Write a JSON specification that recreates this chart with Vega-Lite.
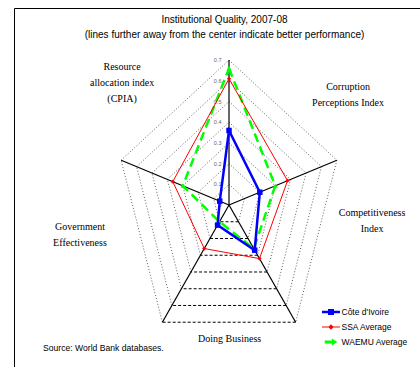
{
  "$schema": "https://vega.github.io/schema/vega-lite/v6.json",
  "width": 406,
  "height": 359,
  "autosize": {"type": "none"},
  "padding": {"left": 14, "top": 8, "right": 0, "bottom": 0},
  "title": {
    "text": ["Institutional Quality, 2007-08", "(lines further away from the center indicate better performance)"],
    "anchor": "middle",
    "frame": "group",
    "baseline": "top",
    "offset": -32,
    "dx": 7.5,
    "font": "Liberation Sans",
    "fontSize": 10,
    "fontWeight": "normal",
    "color": "black",
    "lineHeight": 15
  },
  "config": {
    "view": {"stroke": "black", "strokeWidth": 1}
  },
  "datasets": {
    "scores": [
      {"series": "Côte d'Ivoire", "indicator": "Resource allocation index (CPIA)", "value": 0.36},
      {"series": "Côte d'Ivoire", "indicator": "Corruption Perceptions Index", "value": 0.20},
      {"series": "Côte d'Ivoire", "indicator": "Competitiveness Index", "value": 0.27},
      {"series": "Côte d'Ivoire", "indicator": "Doing Business", "value": 0.12},
      {"series": "Côte d'Ivoire", "indicator": "Government Effectiveness", "value": 0.06},
      {"series": "SSA Average", "indicator": "Resource allocation index (CPIA)", "value": 0.61},
      {"series": "SSA Average", "indicator": "Corruption Perceptions Index", "value": 0.38},
      {"series": "SSA Average", "indicator": "Competitiveness Index", "value": 0.32},
      {"series": "SSA Average", "indicator": "Doing Business", "value": 0.26},
      {"series": "SSA Average", "indicator": "Government Effectiveness", "value": 0.365},
      {"series": "WAEMU Average", "indicator": "Resource allocation index (CPIA)", "value": 0.66},
      {"series": "WAEMU Average", "indicator": "Corruption Perceptions Index", "value": 0.30},
      {"series": "WAEMU Average", "indicator": "Competitiveness Index", "value": 0.26},
      {"series": "WAEMU Average", "indicator": "Doing Business", "value": 0.10},
      {"series": "WAEMU Average", "indicator": "Government Effectiveness", "value": 0.30}
    ],
    "rings": [
      {"level": 0.1, "edge": 0}, {"level": 0.1, "edge": 1}, {"level": 0.1, "edge": 2}, {"level": 0.1, "edge": 3}, {"level": 0.1, "edge": 4},
      {"level": 0.2, "edge": 0}, {"level": 0.2, "edge": 1}, {"level": 0.2, "edge": 2}, {"level": 0.2, "edge": 3}, {"level": 0.2, "edge": 4},
      {"level": 0.3, "edge": 0}, {"level": 0.3, "edge": 1}, {"level": 0.3, "edge": 2}, {"level": 0.3, "edge": 3}, {"level": 0.3, "edge": 4},
      {"level": 0.4, "edge": 0}, {"level": 0.4, "edge": 1}, {"level": 0.4, "edge": 2}, {"level": 0.4, "edge": 3}, {"level": 0.4, "edge": 4},
      {"level": 0.5, "edge": 0}, {"level": 0.5, "edge": 1}, {"level": 0.5, "edge": 2}, {"level": 0.5, "edge": 3}, {"level": 0.5, "edge": 4},
      {"level": 0.6, "edge": 0}, {"level": 0.6, "edge": 1}, {"level": 0.6, "edge": 2}, {"level": 0.6, "edge": 3}, {"level": 0.6, "edge": 4},
      {"level": 0.7, "edge": 0}, {"level": 0.7, "edge": 1}, {"level": 0.7, "edge": 2}, {"level": 0.7, "edge": 3}, {"level": 0.7, "edge": 4}
    ],
    "spokes": [
      {"i": 0, "level": 0.7}, {"i": 1, "level": 0.7}, {"i": 2, "level": 0.7}, {"i": 3, "level": 0.7}, {"i": 4, "level": 0.7}
    ],
    "ticks": [
      {"level": 0}, {"level": 0.1}, {"level": 0.2}, {"level": 0.3}, {"level": 0.4}, {"level": 0.5}, {"level": 0.6}, {"level": 0.7}
    ],
    "labels": [
      {"lines": ["Resource", "allocation index", "(CPIA)"], "x": -0.66, "y": 0.6667},
      {"lines": ["Corruption", "Perceptions Index"], "x": 0.735, "y": 0.5686},
      {"lines": ["Competitiveness", "Index"], "x": 0.883, "y": -0.0372},
      {"lines": ["Doing Business"], "x": 0.004, "y": -0.6488},
      {"lines": ["Government", "Effectiveness"], "x": -0.92, "y": -0.1048}
    ],
    "notes": [
      {"text": "Source:  World Bank databases.", "x": -1.148, "y": -0.692}
    ]
  },
  "layer": [
    {
      "data": {"name": "rings"},
      "transform": [
        {"filter": "datum.edge != 2"},
        {"calculate": "PI/2 - datum.edge*2*PI/5", "as": "a1"},
        {"calculate": "datum.a1 - 2*PI/5", "as": "a2"},
        {"calculate": "datum.level*cos(datum.a1)", "as": "x1"},
        {"calculate": "datum.level*sin(datum.a1)", "as": "y1"},
        {"calculate": "datum.level*cos(datum.a2)", "as": "x2"},
        {"calculate": "datum.level*sin(datum.a2)", "as": "y2"}
      ],
      "mark": {"type": "rule", "color": "#606060", "strokeWidth": 1, "strokeDash": [1, 2]},
      "encoding": {
        "x": {"field": "x1", "type": "quantitative", "scale": {"domain": [-1.3272, 1.179], "nice": false, "zero": false}, "axis": null},
        "y": {"field": "y1", "type": "quantitative", "scale": {"domain": [-0.7826, 0.9517], "nice": false, "zero": false}, "axis": null},
        "x2": {"field": "x2"},
        "y2": {"field": "y2"}
      }
    },
    {
      "data": {"name": "rings"},
      "transform": [
        {"filter": "datum.edge == 2"},
        {"calculate": "PI/2 - datum.edge*2*PI/5", "as": "a1"},
        {"calculate": "datum.a1 - 2*PI/5", "as": "a2"},
        {"calculate": "datum.level*cos(datum.a1)", "as": "x1"},
        {"calculate": "datum.level*sin(datum.a1)", "as": "y1"},
        {"calculate": "datum.level*cos(datum.a2)", "as": "x2"},
        {"calculate": "datum.level*sin(datum.a2)", "as": "y2"}
      ],
      "mark": {"type": "rule", "color": "black", "strokeWidth": 1, "strokeDash": [3, 2]},
      "encoding": {
        "x": {"field": "x1", "type": "quantitative", "scale": {"domain": [-1.3272, 1.179], "nice": false, "zero": false}, "axis": null},
        "y": {"field": "y1", "type": "quantitative", "scale": {"domain": [-0.7826, 0.9517], "nice": false, "zero": false}, "axis": null},
        "x2": {"field": "x2"},
        "y2": {"field": "y2"}
      }
    },
    {
      "data": {"name": "spokes"},
      "transform": [
        {"calculate": "PI/2 - datum.i*2*PI/5", "as": "a"},
        {"calculate": "0", "as": "x0"},
        {"calculate": "0", "as": "y0"},
        {"calculate": "datum.level*cos(datum.a)", "as": "xe"},
        {"calculate": "datum.level*sin(datum.a)", "as": "ye"}
      ],
      "mark": {"type": "rule", "color": "black", "strokeWidth": 1.2},
      "encoding": {
        "x": {"field": "x0", "type": "quantitative", "scale": {"domain": [-1.3272, 1.179], "nice": false, "zero": false}, "axis": null},
        "y": {"field": "y0", "type": "quantitative", "scale": {"domain": [-0.7826, 0.9517], "nice": false, "zero": false}, "axis": null},
        "x2": {"field": "xe"},
        "y2": {"field": "ye"}
      }
    },
    {
      "data": {"name": "ticks"},
      "transform": [{"calculate": "0", "as": "x0"}],
      "mark": {"type": "text", "align": "right", "baseline": "middle", "dx": -7.5, "font": "Liberation Sans", "fontSize": 5.5, "color": "#666666"},
      "encoding": {
        "x": {"field": "x0", "type": "quantitative", "scale": {"domain": [-1.3272, 1.179], "nice": false, "zero": false}, "axis": null},
        "y": {"field": "level", "type": "quantitative", "scale": {"domain": [-0.7826, 0.9517], "nice": false, "zero": false}, "axis": null},
        "text": {"field": "level", "type": "quantitative"}
      }
    },
    {
      "data": {"name": "scores"},
      "transform": [
        {"filter": "datum.series == 'WAEMU Average'"},
        {"calculate": "indexof(['Resource allocation index (CPIA)','Corruption Perceptions Index','Competitiveness Index','Doing Business','Government Effectiveness'], datum.indicator)", "as": "i"},
        {"calculate": "PI/2 - datum.i*2*PI/5", "as": "a"},
        {"calculate": "datum.value*cos(datum.a)", "as": "px"},
        {"calculate": "datum.value*sin(datum.a)", "as": "py"}
      ],
      "layer": [
        {"mark": {"type": "line", "interpolate": "linear-closed", "color": "#00ff00", "strokeWidth": 2.5, "strokeDash": [9, 5]}},
        {"mark": {"type": "point", "filled": true, "shape": "triangle-up", "size": 22, "color": "#00ff00", "opacity": 1}}
      ],
      "encoding": {
        "x": {"field": "px", "type": "quantitative", "scale": {"domain": [-1.3272, 1.179], "nice": false, "zero": false}, "axis": null},
        "y": {"field": "py", "type": "quantitative", "scale": {"domain": [-0.7826, 0.9517], "nice": false, "zero": false}, "axis": null},
        "order": {"field": "i", "type": "quantitative"}
      }
    },
    {
      "data": {"name": "scores"},
      "transform": [
        {"filter": "datum.series == 'SSA Average'"},
        {"calculate": "indexof(['Resource allocation index (CPIA)','Corruption Perceptions Index','Competitiveness Index','Doing Business','Government Effectiveness'], datum.indicator)", "as": "i"},
        {"calculate": "PI/2 - datum.i*2*PI/5", "as": "a"},
        {"calculate": "datum.value*cos(datum.a)", "as": "px"},
        {"calculate": "datum.value*sin(datum.a)", "as": "py"}
      ],
      "layer": [
        {"mark": {"type": "line", "interpolate": "linear-closed", "color": "#ff0000", "strokeWidth": 1}},
        {"mark": {"type": "point", "filled": true, "shape": "diamond", "size": 18, "color": "#ff0000", "opacity": 1}}
      ],
      "encoding": {
        "x": {"field": "px", "type": "quantitative", "scale": {"domain": [-1.3272, 1.179], "nice": false, "zero": false}, "axis": null},
        "y": {"field": "py", "type": "quantitative", "scale": {"domain": [-0.7826, 0.9517], "nice": false, "zero": false}, "axis": null},
        "order": {"field": "i", "type": "quantitative"}
      }
    },
    {
      "data": {"name": "scores"},
      "transform": [
        {"filter": "datum.series == \"Côte d'Ivoire\""},
        {"calculate": "indexof(['Resource allocation index (CPIA)','Corruption Perceptions Index','Competitiveness Index','Doing Business','Government Effectiveness'], datum.indicator)", "as": "i"},
        {"calculate": "PI/2 - datum.i*2*PI/5", "as": "a"},
        {"calculate": "datum.value*cos(datum.a)", "as": "px"},
        {"calculate": "datum.value*sin(datum.a)", "as": "py"}
      ],
      "layer": [
        {"mark": {"type": "line", "interpolate": "linear-closed", "color": "#0000ff", "strokeWidth": 2.5}},
        {"mark": {"type": "point", "filled": true, "shape": "square", "size": 30, "color": "#0000ff", "opacity": 1}}
      ],
      "encoding": {
        "x": {"field": "px", "type": "quantitative", "scale": {"domain": [-1.3272, 1.179], "nice": false, "zero": false}, "axis": null},
        "y": {"field": "py", "type": "quantitative", "scale": {"domain": [-0.7826, 0.9517], "nice": false, "zero": false}, "axis": null},
        "order": {"field": "i", "type": "quantitative"}
      }
    },
    {
      "data": {"name": "scores"},
      "transform": [
        {"calculate": "indexof(['Resource allocation index (CPIA)','Corruption Perceptions Index','Competitiveness Index','Doing Business','Government Effectiveness'], datum.indicator)", "as": "i"},
        {"calculate": "PI/2 - datum.i*2*PI/5", "as": "a"},
        {"calculate": "datum.value*cos(datum.a)", "as": "px"},
        {"calculate": "datum.value*sin(datum.a)", "as": "py"}
      ],
      "mark": {"type": "point", "filled": true, "opacity": 0},
      "encoding": {
        "x": {"field": "px", "type": "quantitative", "scale": {"domain": [-1.3272, 1.179], "nice": false, "zero": false}, "axis": null},
        "y": {"field": "py", "type": "quantitative", "scale": {"domain": [-0.7826, 0.9517], "nice": false, "zero": false}, "axis": null},
        "fill": {
          "field": "series", "type": "nominal",
          "scale": {"domain": ["Côte d'Ivoire", "SSA Average", "WAEMU Average"], "range": ["#0000ff", "#ff0000", "#00ff00"]},
          "legend": {"title": null, "orient": "none", "legendX": 312.5, "legendY": 299.5, "symbolSize": 81, "symbolStrokeWidth": 0, "symbolOpacity": 1, "labelFont": "Liberation Sans", "labelFontSize": 8.5, "labelColor": "black", "labelOffset": 6, "rowPadding": 6, "padding": 0}
        },
        "shape": {
          "field": "series", "type": "nominal",
          "scale": {"domain": ["Côte d'Ivoire", "SSA Average", "WAEMU Average"], "range": [
            "M-2,-0.28H2V0.28H-2ZM-0.67,-0.67H0.67V0.67H-0.67Z",
            "M-2,-0.11H2V0.11H-2ZM0,-0.6L0.6,0L0,0.6L-0.6,0Z",
            "M-1.4,-0.33H0.4V0.33H-1.4ZM0.2,-0.8L1.4,0L0.2,0.8Z"
          ]},
          "legend": {"title": null, "orient": "none", "legendX": 312.5, "legendY": 299.5, "symbolSize": 81, "symbolStrokeWidth": 0, "symbolOpacity": 1, "labelFont": "Liberation Sans", "labelFontSize": 8.5, "labelColor": "black", "labelOffset": 6, "rowPadding": 6, "padding": 0}
        }
      }
    },
    {
      "data": {"name": "labels"},
      "mark": {"type": "text", "align": "center", "baseline": "middle", "font": "Liberation Serif", "fontSize": 10, "lineHeight": 16, "color": "black"},
      "encoding": {
        "x": {"field": "x", "type": "quantitative", "scale": {"domain": [-1.3272, 1.179], "nice": false, "zero": false}, "axis": null},
        "y": {"field": "y", "type": "quantitative", "scale": {"domain": [-0.7826, 0.9517], "nice": false, "zero": false}, "axis": null},
        "text": {"field": "lines", "type": "nominal"}
      }
    },
    {
      "data": {"name": "notes"},
      "mark": {"type": "text", "align": "left", "baseline": "middle", "font": "Liberation Sans", "fontSize": 8.6, "color": "black"},
      "encoding": {
        "x": {"field": "x", "type": "quantitative", "scale": {"domain": [-1.3272, 1.179], "nice": false, "zero": false}, "axis": null},
        "y": {"field": "y", "type": "quantitative", "scale": {"domain": [-0.7826, 0.9517], "nice": false, "zero": false}, "axis": null},
        "text": {"field": "text", "type": "nominal"}
      }
    }
  ]
}
